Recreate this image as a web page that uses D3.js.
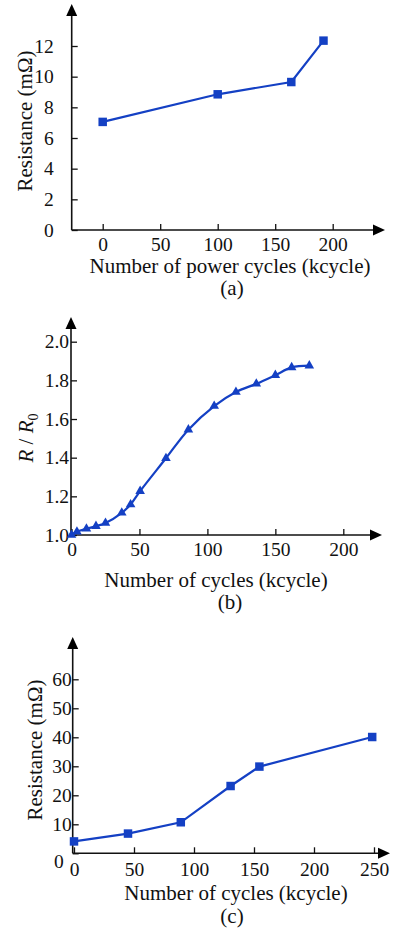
<!doctype html>
<html lang="en">
<head>
  <meta charset="utf-8">
  <title>Resistance vs cycles</title>
  <style>
    * { margin: 0; padding: 0; box-sizing: border-box; }
    body { background: #fff; }
  </style>
</head>
<body>
  <div id="container"></div>
  <script src="https://cdn.jsdelivr.net/npm/d3@7/dist/d3.min.js"></script>
  <script>
    // (a) power cycles
    const aCycles = [0, 100, 164, 192];
    const aRes = [7.05, 8.85, 9.65, 12.35];
    const aXTicks = [0, 50, 100, 150, 200];
    const aYTicks = [0, 2, 4, 6, 8, 10, 12];

    // (b) normalised resistance
    const bCycles = [0, 4, 11, 18, 25, 37, 43.5, 50.5, 69.5, 86, 105, 121, 136, 150, 162, 175];
    const bRatio = [1.0, 1.017, 1.032, 1.046, 1.062, 1.115, 1.158, 1.227, 1.397, 1.545, 1.667, 1.74, 1.782, 1.827, 1.867, 1.876];
    const bXTicks = [0, 50, 100, 150, 200];
    const bYTicks = [1.0, 1.2, 1.4, 1.6, 1.8, 2.0];

    // (c) resistance
    const cCycles = [0, 45, 89, 130.5, 154.5, 248.5];
    const cRes = [4.1, 6.8, 10.7, 23.2, 29.9, 40.1];
    const cXTicks = [0, 50, 100, 150, 200, 250];
    const cYTicks = [0, 10, 20, 30, 40, 50, 60];

    const blue = '#1440c4';
    const font = 'Liberation Serif';
    const fsTick = 19.5, fsTitle = 21;

    const svg = d3.select('#container').append('svg')
      .attr('width', 396).attr('height', 931)
      .attr('font-family', font);

    function panel(o) {
      const g = svg.append('g');
      const x = d3.scaleLinear().domain(o.xDom).range(o.xRange);
      const y = d3.scaleLinear().domain(o.yDom).range(o.yRange);

      const xa = g.append('g').attr('transform', `translate(0,${o.ax[1]})`)
        .call(d3.axisBottom(x).tickValues(o.xTicks).tickSizeInner(-6).tickSizeOuter(0).tickPadding(o.xPad).tickFormat(o.xFmt));
      const ya = g.append('g').attr('transform', `translate(${o.ax[0]},0)`)
        .call(d3.axisLeft(y).tickValues(o.yTicks).tickSizeInner(-6).tickSizeOuter(0).tickPadding(o.yPad).tickFormat(o.yFmt));
      [xa, ya].forEach(a => {
        a.attr('font-family', font).attr('font-size', fsTick);
        a.select('.domain').remove();
        a.selectAll('line').attr('stroke', '#111').attr('stroke-width', 1.3);
        a.selectAll('text').attr('fill', '#111');
      });
      if (o.tweak) o.tweak(ya, xa);

      // axis lines with arrows
      g.append('line').attr('x1', o.ax[0]).attr('y1', o.ax[1]).attr('x2', o.xEnd - 8).attr('y2', o.ax[1])
        .attr('stroke', '#111').attr('stroke-width', 1.6);
      g.append('line').attr('x1', o.ax[0]).attr('y1', o.ax[1]).attr('x2', o.ax[0]).attr('y2', o.yEnd + 8)
        .attr('stroke', '#111').attr('stroke-width', 1.6);
      g.append('path').attr('fill', '#000')
        .attr('d', `M${o.xEnd},${o.ax[1]} L${o.xEnd - 12},${o.ax[1] - 5.5} L${o.xEnd - 12},${o.ax[1] + 5.5}Z`);
      g.append('path').attr('fill', '#000')
        .attr('d', `M${o.ax[0]},${o.yEnd} L${o.ax[0] - 5.5},${o.yEnd + 12} L${o.ax[0] + 5.5},${o.yEnd + 12}Z`);

      const pts = o.xs.map((v, i) => [v, o.ys[i]]);
      const line = d3.line().x(d => x(d[0])).y(d => y(d[1])).curve(o.curve || d3.curveLinear);
      g.append('path').datum(pts).attr('d', line)
        .attr('fill', 'none').attr('stroke', blue).attr('stroke-width', 2.2);
      g.selectAll('.m').data(pts).join('path')
        .attr('transform', d => `translate(${x(d[0])},${y(d[1])})`)
        .attr('d', d3.symbol().type(o.symbol).size(o.symSize))
        .attr('fill', blue);

      // titles
      g.append('text').attr('x', o.xt[0]).attr('y', o.xt[1]).attr('text-anchor', 'middle')
        .attr('font-size', fsTitle).attr('fill', '#111').text(o.xTitle);
      g.append('text').attr('x', o.xt[0] + o.labDx).attr('y', o.xt[1] + o.labDy).attr('text-anchor', 'middle')
        .attr('font-size', fsTitle).attr('fill', '#111').text(o.label);
      const yt = g.append('text').attr('transform', `translate(${o.yt[0]},${o.yt[1]}) rotate(-90)`)
        .attr('text-anchor', 'middle').attr('dy', '0.35em').attr('font-size', fsTitle).attr('fill', '#111');
      o.yTitle(yt);
    }

    panel({
      xDom: [0, 200], xRange: [102.7, 332.7], yDom: [0, 12], yRange: [230, 46],
      ax: [71.7, 230], xEnd: 385, yEnd: 4,
      xTicks: aXTicks, yTicks: aYTicks, xPad: 7, yPad: 18,
      xFmt: d3.format('d'), yFmt: d3.format('d'),
      xs: aCycles, ys: aRes, symbol: d3.symbolSquare, symSize: 72,
      xt: [230, 273], labDx: 2, labDy: 22, xTitle: 'Number of power cycles (kcycle)', label: '(a)',
      yt: [25, 121], yTitle: t => t.text('Resistance (mΩ)')
    });

    panel({
      xDom: [0, 200], xRange: [71.5, 343.3], yDom: [1.0, 2.0], yRange: [535, 341.7],
      ax: [71, 535], xEnd: 382, yEnd: 317,
      xTicks: bXTicks, yTicks: bYTicks, xPad: 7.5, yPad: 2,
      xFmt: d3.format('d'), yFmt: d3.format('.1f'),
      xs: bCycles, ys: bRatio, symbol: d3.symbolTriangle, symSize: 40,
      curve: d3.curveCatmullRom,
      xt: [216, 587], labDx: 14, labDy: 22, xTitle: 'Number of cycles (kcycle)', label: '(b)',
      yt: [26, 438], yTitle: t => {
        t.append('tspan').attr('font-style', 'italic').text('R');
        t.append('tspan').text(' / ');
        t.append('tspan').attr('font-style', 'italic').text('R');
        t.append('tspan').attr('font-size', 14).attr('dy', '0.3em').text('0');
      }
    });

    panel({
      xDom: [0, 250], xRange: [74, 374], yDom: [0, 60], yRange: [853.3, 679.3],
      ax: [72.7, 853.3], xEnd: 390, yEnd: 637,
      xTicks: cXTicks, yTicks: cYTicks, xPad: 9, yPad: 1,
      xFmt: d3.format('d'), yFmt: d3.format('d'),
      xs: cCycles, ys: cRes, symbol: d3.symbolSquare, symSize: 72,
      xt: [236, 899.5], labDx: -4, labDy: 23.5, xTitle: 'Number of cycles (kcycle)', label: '(c)',
      yt: [35, 750], yTitle: t => t.text('Resistance (mΩ)'),
      tweak: ya => ya.selectAll('.tick').filter(d => d === 0).select('text')
        .attr('x', -9).attr('dy', '0.75em')
    });
  </script>
</body>
</html>
